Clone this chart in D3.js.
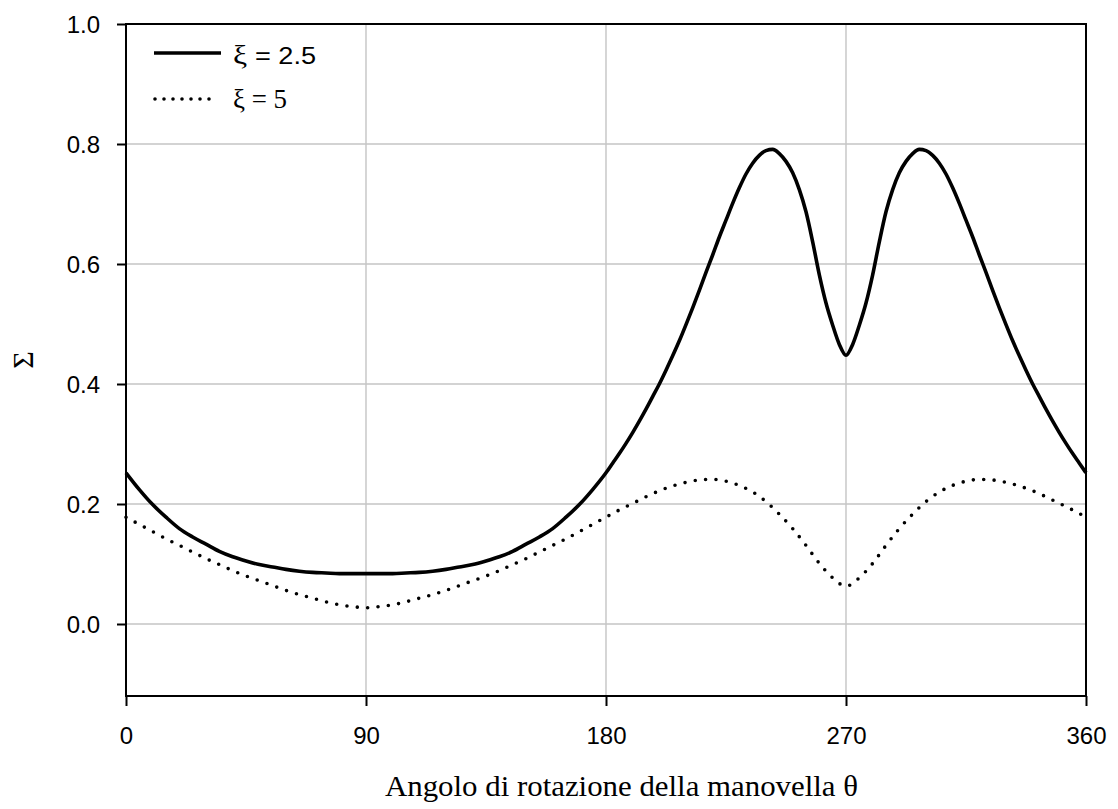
<!DOCTYPE html>
<html><head><meta charset="utf-8">
<script src="https://cdn.jsdelivr.net/npm/d3@7"></script>
<style>
body{margin:0;background:#fff;}
svg{display:block;}
</style></head>
<body><svg id="c" width="1118" height="809"></svg>
<script>
// Data: crank angle θ (degrees) and Σ values
const thetaA = d3.range(0,180,5).concat(d3.range(180,360.01,2.5));
const sigmaA = [0.252,0.224,0.199,0.178,0.159,0.145,0.133,0.121,0.112,0.105,0.099,0.095,0.091,0.088,0.086,0.085,0.084,0.084,0.084,
  0.084,0.084,0.085,0.086,0.088,0.091,0.095,0.099,0.105,0.112,0.121,0.133,0.145,0.159,0.178,0.199,0.224,0.252,
  0.268,0.284,0.301,0.319,0.338,0.358,0.379,0.400,0.423,0.447,0.472,0.499,0.527,0.556,0.586,0.615,0.645,0.673,0.701,0.727,
  0.750,0.768,0.781,0.789,0.791,0.784,0.771,0.752,0.724,0.687,0.637,0.582,0.535,0.498,0.466,0.448,
  0.466,0.498,0.535,0.582,0.637,0.687,0.724,0.752,0.771,0.784,0.791,0.789,0.781,0.768,0.750,
  0.727,0.701,0.673,0.645,0.615,0.586,0.556,0.527,0.499,0.472,0.447,0.423,0.400,0.379,0.358,0.338,0.319,0.301,0.284,0.268,0.252];
const thetaB = d3.range(0,360.01,5);
const sigmaB = [0.178,0.166,0.154,0.142,0.131,0.120,0.109,0.099,0.089,0.080,0.072,0.064,0.056,0.049,0.043,0.037,0.032,0.029,0.027,
  0.029,0.032,0.037,0.043,0.049,0.056,0.064,0.072,0.080,0.089,0.099,0.109,0.120,0.131,0.142,0.154,0.166,0.178,
  0.190,0.201,0.212,0.222,0.230,0.236,0.240,0.241,0.238,0.231,0.220,0.204,0.183,0.159,0.131,0.101,0.077,0.063,
  0.077,0.101,0.131,0.159,0.183,0.204,0.220,0.231,0.238,0.241,0.240,0.236,0.230,0.222,0.212,0.201,0.190,0.178];
const xTicks = [0,90,180,270,360];
const yTicks = [0.0,0.2,0.4,0.6,0.8,1.0];
const legendLabels = ["= 2.5","= 5"];

const svg = d3.select("#c");
const L=126, R=1086, T=24, B=696;
const x = d3.scaleLinear().domain([0,360]).range([L,R]);
const y = d3.scaleLinear().domain([-0.12,1.0]).range([B,T]);
const SANS = "'Liberation Sans',Arial,sans-serif";
const SERIF = "'Liberation Serif','Times New Roman',serif";

// grid
const g = svg.append("g");
g.selectAll(".gx").data(xTicks.filter(d=>d>0&&d<360)).enter().append("line")
  .attr("x1",d=>x(d)).attr("x2",d=>x(d)).attr("y1",T).attr("y2",B)
  .attr("stroke","#c4c4c4").attr("stroke-width",1.4);
g.selectAll(".gy").data(yTicks.filter(d=>d<1)).enter().append("line")
  .attr("x1",L).attr("x2",R).attr("y1",d=>y(d)).attr("y2",d=>y(d))
  .attr("stroke","#c4c4c4").attr("stroke-width",1.4);

// axes
const xAxis = d3.axisBottom(x).tickValues(xTicks).tickSize(10).tickPadding(21).tickFormat(d3.format("d"));
const yAxis = d3.axisLeft(y).tickValues(yTicks).tickSize(9).tickPadding(17).tickFormat(d3.format(".1f"));
const ax = svg.append("g").attr("transform",`translate(0,${B})`).call(xAxis);
const ay = svg.append("g").attr("transform",`translate(${L},0)`).call(yAxis);
[ax,ay].forEach(a=>{
  a.select(".domain").remove();
  a.selectAll(".tick line").attr("stroke","#000").attr("stroke-width",2);
  a.selectAll(".tick text").attr("fill","#000").style("font-family",SANS).style("font-size","24px");
});
ax.selectAll(".tick text").attr("dy","0.71em");
ay.selectAll(".tick text").attr("dy","0.34em");

// frame
svg.append("rect").attr("x",L).attr("y",T).attr("width",R-L).attr("height",B-T)
  .attr("fill","none").attr("stroke","#000").attr("stroke-width",2);

// lines
const line = d3.line().x(d=>x(d[0])).y(d=>y(d[1])).curve(d3.curveMonotoneX);
const dA = thetaA.map((t,i)=>[t,sigmaA[i]]);
const dB = thetaB.map((t,i)=>[t,sigmaB[i]]);
svg.append("path").attr("d",line(dA)).attr("fill","none").attr("stroke","#000").attr("stroke-width",3.6).attr("stroke-linejoin","round");
svg.append("path").attr("d",line(dB)).attr("fill","none").attr("stroke","#000").attr("stroke-width",3.6)
  .attr("stroke-linecap","round").attr("stroke-dasharray","0 10.4");

// legend
const lg = svg.append("g");
lg.append("line").attr("x1",154).attr("x2",221).attr("y1",53).attr("y2",53).attr("stroke","#000").attr("stroke-width",3.6);
lg.append("line").attr("x1",155).attr("x2",218).attr("y1",99).attr("y2",99).attr("stroke","#000").attr("stroke-width",3.6)
  .attr("stroke-linecap","round").attr("stroke-dasharray","0 9");
const t1 = lg.append("text").attr("x",233).attr("y",64).style("font-size","24px");
t1.append("tspan").style("font-family",SERIF).style("font-size","28px").text("ξ ");
t1.append("tspan").style("font-family",SANS).text(legendLabels[0]);
t1.attr("textLength",83).attr("lengthAdjust","spacingAndGlyphs");
lg.append("text").attr("x",233).attr("y",108).style("font-family",SERIF).style("font-size","27px")
  .text("ξ " + legendLabels[1]).attr("textLength",54).attr("lengthAdjust","spacingAndGlyphs");

// axis titles
svg.append("text").attr("x",385).attr("y",796).attr("text-anchor","start")
  .style("font-family",SERIF).style("font-size","30px").text("Angolo di rotazione della manovella θ")
  .attr("textLength",473).attr("lengthAdjust","spacingAndGlyphs");
svg.append("text").attr("transform","translate(33,360) rotate(-90)").attr("text-anchor","middle")
  .style("font-family",SERIF).style("font-size","30px").text("Σ");
</script></body></html>
